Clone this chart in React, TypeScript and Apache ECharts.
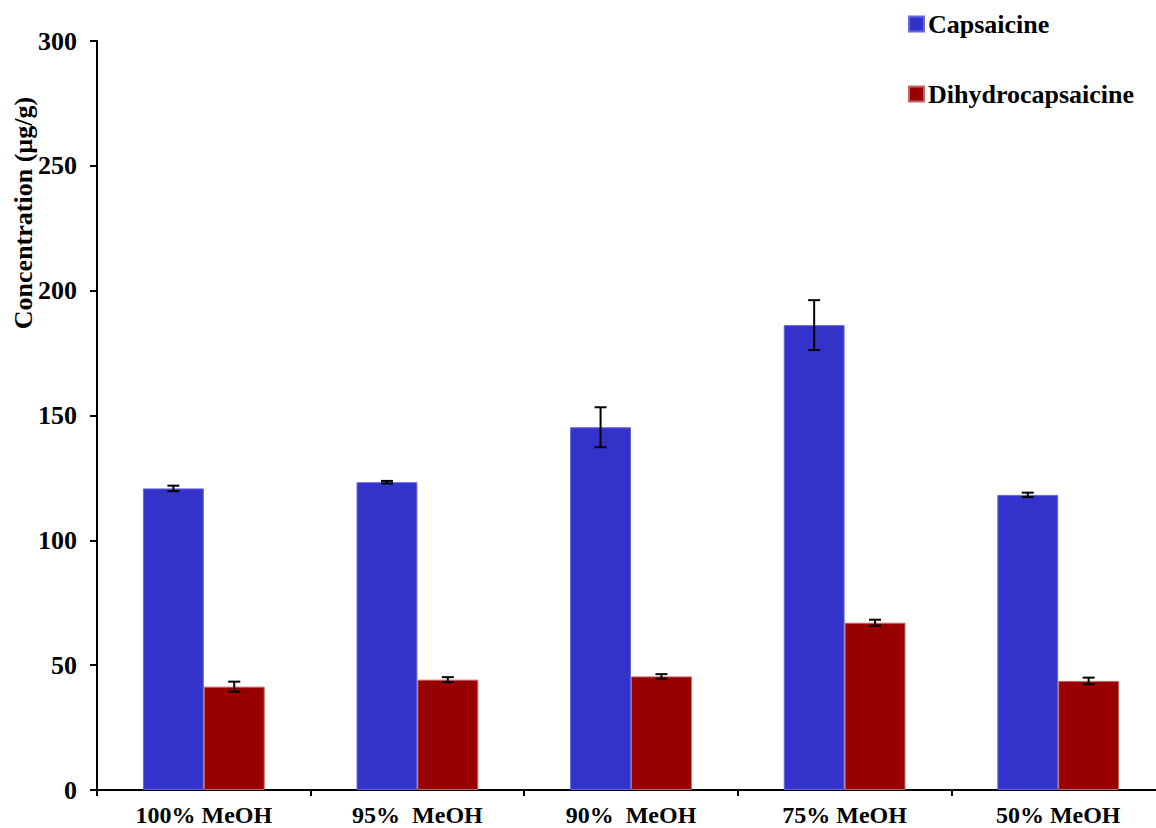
import React, { useEffect, useRef } from "react";
import * as echarts from "echarts";

const categories = ["100% MeOH", "95%  MeOH", "90%  MeOH", "75% MeOH", "50% MeOH"];
const capsaicine = [120.8, 123.3, 145.3, 186.2, 118.2];
const capsaicineErr = [1.1, 0.5, 8.0, 10.0, 0.9];
const dihydro = [41.4, 44.2, 45.5, 67.0, 43.7];
const dihydroErr = [2.0, 1.0, 0.9, 1.2, 1.3];
const yTicks = { min: 0, max: 300, interval: 50 };

const FONT = "'Liberation Serif', 'Times New Roman', serif";
const GAP = 0.43;

function errorSeries(name: string, values: number[], errs: number[], side: number) {
  return {
    type: "custom",
    name,
    silent: true,
    z: 10,
    data: values.map((v, i) => [i, v - errs[i], v + errs[i]]),
    encode: { x: 0, y: [1, 2] },
    renderItem: (params: any, api: any) => {
      const idx = api.value(0);
      const lo = api.coord([idx, api.value(1)]);
      const hi = api.coord([idx, api.value(2)]);
      const band = api.size([1, 0])[0];
      const barW = (band * (1 - GAP)) / 2;
      const x = lo[0] + side * barW / 2;
      const cap = 6;
      const style = { stroke: "#000", lineWidth: 2 };
      return {
        type: "group",
        children: [
          { type: "line", shape: { x1: x, y1: lo[1], x2: x, y2: hi[1] }, style },
          { type: "line", shape: { x1: x - cap, y1: lo[1], x2: x + cap, y2: lo[1] }, style },
          { type: "line", shape: { x1: x - cap, y1: hi[1], x2: x + cap, y2: hi[1] }, style },
        ],
      };
    },
  };
}

export default function App() {
  const ref = useRef<HTMLDivElement>(null);
  useEffect(() => {
    if (!ref.current) return;
    const chart = echarts.init(ref.current, null, { renderer: "svg" });
    chart.setOption({
      animation: false,
      backgroundColor: "#fff",
      textStyle: { fontFamily: FONT },
      grid: { left: 97, right: 0, top: 41, bottom: 38, containLabel: false },
      legend: {
        data: ["Capsaicine", "Dihydrocapsaicine"],
        orient: "vertical",
        left: 903,
        top: 6,
        itemWidth: 15,
        itemHeight: 15,
        itemGap: 44,
        icon: "rect",
        textStyle: { fontFamily: FONT, fontWeight: "bold", fontSize: 26, color: "#000", padding: [0, 0, 0, -1] },
      },
      xAxis: {
        type: "category",
        data: categories,
        axisLine: { lineStyle: { color: "#000", width: 2 } },
        axisTick: { show: true, length: 6, lineStyle: { color: "#000", width: 2 }, alignWithLabel: false },
        axisLabel: { fontFamily: FONT, fontWeight: "bold", fontSize: 24, color: "#000", margin: 13, interval: 0 },
        splitLine: { show: false },
      },
      yAxis: {
        type: "value",
        min: yTicks.min,
        max: yTicks.max,
        interval: yTicks.interval,
        axisLine: { show: true, lineStyle: { color: "#000", width: 2 } },
        axisTick: { show: true, length: 7, lineStyle: { color: "#000", width: 2 } },
        axisLabel: { fontFamily: FONT, fontWeight: "bold", fontSize: 26, color: "#000", margin: 20 },
        splitLine: { show: false },
      },
      graphic: [
        {
          type: "text",
          x: 23,
          y: 213,
          rotation: Math.PI / 2,
          style: {
            text: "Concentration (µg/g)",
            fontFamily: FONT,
            fontWeight: "bold",
            fontSize: 26,
            fill: "#000",
            align: "center",
            verticalAlign: "middle",
          },
        },
      ],
      series: [
        {
          name: "Capsaicine",
          type: "bar",
          data: capsaicine,
          barGap: "0%",
          barCategoryGap: GAP * 100 + "%",
          itemStyle: { color: "#3333CC", borderColor: "#6666DD", borderWidth: 1 },
        },
        {
          name: "Dihydrocapsaicine",
          type: "bar",
          data: dihydro,
          barGap: "0%",
          barCategoryGap: GAP * 100 + "%",
          itemStyle: { color: "#990000", borderColor: "#C06666", borderWidth: 1 },
        },
        errorSeries("errC", capsaicine, capsaicineErr, -1),
        errorSeries("errD", dihydro, dihydroErr, 1),
      ],
    });
    return () => chart.dispose();
  }, []);
  return (
    <div style={{ position: "absolute", left: 0, top: 0, width: 1156, height: 828, overflow: "hidden", background: "#fff" }}>
      <div ref={ref} style={{ width: 1165, height: 828 }} />
    </div>
  );
}
